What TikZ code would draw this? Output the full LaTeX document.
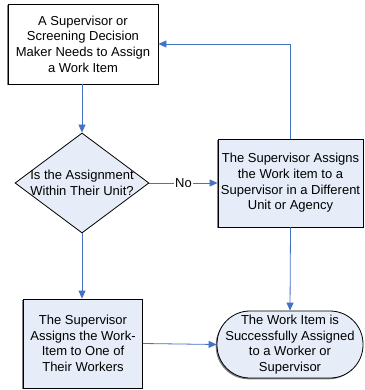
\documentclass[tikz,border=0pt]{standalone}
\usepackage{fontspec}
\setmainfont{Liberation Sans}
\usetikzlibrary{arrows.meta,shapes.geometric,shadows}
\definecolor{flowfill}{RGB}{230,236,248}
\definecolor{flowline}{RGB}{68,114,196}
\definecolor{shadowgray}{RGB}{128,128,128}
\begin{document}
\begin{tikzpicture}[x=1pt,y=-1pt,
  every node/.style={font=\fontsize{13}{15.6}\selectfont, align=center, inner sep=0pt},
  boxshadow/.style={drop shadow={shadow xshift=-1.3pt, shadow yshift=-1.3pt, opacity=1, fill=shadowgray}},
  procbox/.style={draw=black, line width=0.8pt, rectangle, boxshadow},
  decision/.style={draw=black, line width=0.8pt, diamond, fill=flowfill},
  terminal/.style={draw=black, line width=0.8pt, rectangle, rounded corners=33pt, fill=flowfill, boxshadow},
  flow/.style={draw=flowline, line width=0.8pt, -{Triangle[length=8pt,width=7pt]}},
  plain/.style={draw=flowline, line width=0.8pt}
]
\useasboundingbox (0,0) rectangle (364,390);

% process boxes, decision and terminal
\node[procbox, fill=white, minimum width=150pt, minimum height=80pt] (start) at (83,44)
  {A Supervisor or\\Screening Decision\\Maker Needs to Assign\\a Work Item};
\node[decision, minimum width=134pt, minimum height=100pt] (q) at (82,183) {};
\node (qtext) at (82,183) {Is the Assignment\\Within Their Unit?};
\node[procbox, fill=flowfill, minimum width=145pt, minimum height=88pt] (other) at (290.5,183)
  {The Supervisor Assigns\\the Work item to a\\Supervisor in a Different\\Unit or Agency};
\node[procbox, fill=flowfill, minimum width=119pt, minimum height=89pt] (own) at (83,343.5)
  {The Supervisor\\Assigns the Work-\\Item to One of\\Their Workers};
\node[terminal, minimum width=146pt, minimum height=67pt] (done) at (290,344.5)
  {The Work Item is\\Successfully Assigned\\to a Worker or\\Supervisor};

% connectors
\draw[flow] (start.south -| q.north) -- (q.north);
\draw[flow] (q.east) -- node[fill=white, inner xsep=1pt] (no) {No} (other.west);
\draw[flow] (q.south) -- (own.north -| q.south);
\draw[flow] (other.north) |- (start.east);
\draw[flow] (other.south) -- (done.north);
\draw[flow] (own.east) -- (done.west);
\end{tikzpicture}
\end{document}
